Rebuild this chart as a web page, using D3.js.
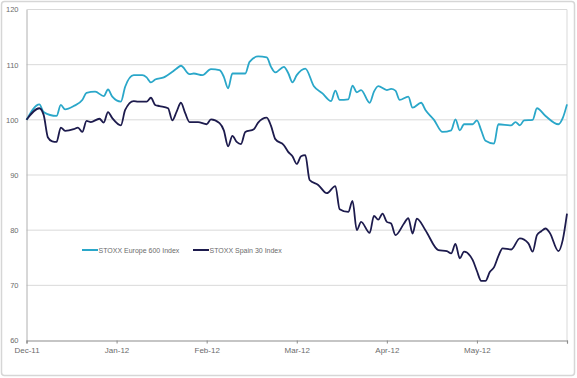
<!DOCTYPE html>
<html>
<head>
<meta charset="utf-8">
<script src="https://cdn.jsdelivr.net/npm/d3@7"></script>
<style>
html,body{margin:0;padding:0;background:#fff;}
svg{display:block;}
text{font-family:"Liberation Sans",Arial,sans-serif;}
</style>
</head>
<body>
<svg id="chart" width="577" height="378"></svg>
<script>
// ---- data ----
const seriesNames = ["STOXX Europe 600 Index", "STOXX Spain 30 Index"];
const monthLabels = ["Dec-11", "Jan-12", "Feb-12", "Mar-12", "Apr-12", "May-12"];
const tickDays = [0, 21, 42, 63, 84, 105, 126];
const yTicks = [60, 70, 80, 90, 100, 110, 120];

const europeDays = [0,3,4,7,8,9,11,13,14,16,18,19,20,22,23,25,27,28,29,30,32,34,35,36,38,39,41,43,45,46,47,48,51,52,54,56,57,58,60,61,62,63,65,67,69,71,72,73,75,76,77,78,80,81,82,84,85,86,87,89,90,92,93,95,97,99,100,101,102,104,105,106,107,109,110,113,114,115,116,118,119,121,124,125,126];
const europeValues = [100,102.8,101.4,100.7,102.7,101.9,102.5,103.6,104.9,105.1,104.3,105.5,104.2,103.3,106.0,108.1,108.1,107.7,106.8,107.3,107.7,108.7,109.3,109.8,108.3,108.4,108.1,109.2,109.0,107.8,105.7,108.4,108.4,110.5,111.5,111.3,109.6,108.6,109.6,108.5,106.8,108.1,109.3,106.1,104.8,103.4,105.3,103.6,103.7,106.2,105.0,105.4,103.1,105.1,106.1,105.4,105.6,105.3,103.6,104.2,102.2,103.1,101.8,100.0,97.8,98.1,100.1,98.1,99.2,99.2,99.9,98.1,96.2,95.7,99.2,99.0,99.6,99.0,99.9,100.0,102.1,100.7,99.2,100.3,102.8];

const spainDays = [0,3,4,5,6,7,8,9,11,12,13,14,15,17,18,19,20,22,23,25,26,28,29,30,31,33,34,35,36,37,38,40,42,43,45,46,47,48,49,50,51,53,54,56,57,58,60,61,62,63,64,65,66,68,70,72,73,75,76,77,78,80,81,82,83,84,85,86,88,89,90,91,93,96,98,99,100,101,102,104,105,106,107,108,109,110,111,113,115,117,118,119,120,121,122,124,125,126];
const spainValues = [100,102.1,100.9,96.8,96.1,96.0,98.6,98.0,98.3,98.6,97.8,99.8,99.6,100.2,99.5,101.4,100.3,99.0,101.8,103.4,103.3,103.3,104.0,102.7,102.5,102.1,99.9,101.5,103.1,101.2,99.6,99.6,99.2,100.1,99.4,98.1,95.2,97.1,96.0,95.6,97.8,98.3,99.5,100.4,98.9,96.5,95.4,94.2,93.4,92.0,93.4,93.6,89.1,88.2,86.7,88.0,83.8,83.3,85.3,80.0,81.5,79.5,82.6,81.9,83.0,81.5,81.2,79.1,81.2,82.2,79.4,82.1,80.0,76.4,76.2,75.8,77.5,74.9,76.1,74.6,72.6,70.8,70.8,72.4,73.3,75.3,76.7,76.5,78.5,77.6,76.1,79.1,79.8,80.3,79.5,76.2,78.2,83.0];

const colors = ["#2aa7c9", "#1d1b4d"];

// ---- drawing ----
const svg = d3.select("#chart");

// outer frame
svg.append("rect")
  .attr("x", 1.5).attr("y", 1.5).attr("width", 573).attr("height", 374)
  .attr("rx", 3).attr("fill", "#fff").attr("stroke", "#d6d6d6").attr("stroke-width", 1.5);

const x = d3.scaleLinear().domain([0, 126]).range([26.5, 567]);
const y = d3.scaleLinear().domain([60, 120]).range([340.5, 9.5]);

// gridlines
svg.append("g").selectAll("line").data(yTicks.filter(v => v > 60)).join("line")
  .attr("x1", x(0)).attr("x2", x(126))
  .attr("y1", d => y(d)).attr("y2", d => y(d))
  .attr("stroke", "#d9d9d9").attr("stroke-width", 1);

// right border
svg.append("line").attr("x1", x(126)).attr("x2", x(126)).attr("y1", y(120)).attr("y2", y(60))
  .attr("stroke", "#d9d9d9").attr("stroke-width", 1);

// y axis
const yAxis = d3.axisLeft(y).tickValues(yTicks).tickSize(0).tickPadding(8).tickFormat(d3.format("d"));
const gy = svg.append("g").attr("transform", `translate(${x(0)},0)`).call(yAxis);
gy.select(".domain").attr("stroke", "#b0b0b0").attr("stroke-width", 1);
gy.selectAll("text").attr("fill", "#6b6b6b").style("font-size", "7.5px");

// x axis
const xAxis = d3.axisBottom(x).tickValues(tickDays).tickSize(3).tickPadding(4)
  .tickFormat((d, i) => monthLabels[i] || "");
const gx = svg.append("g").attr("transform", `translate(0,${y(60)})`).call(xAxis);
gx.select(".domain").attr("stroke", "#8c8c8c").attr("stroke-width", 1.2);
gx.selectAll(".tick line").attr("stroke", "#8c8c8c");
gx.selectAll("text").attr("fill", "#6b6b6b").style("font-size", "8px");

// lines
const line = d3.line().x(d => x(d[0])).y(d => y(d[1])).curve(d3.curveMonotoneX);
const europe = europeDays.map((d, i) => [d, europeValues[i]]);
const spain = spainDays.map((d, i) => [d, spainValues[i]]);

svg.append("path").datum(europe).attr("d", line)
  .attr("fill", "none").attr("stroke", colors[0]).attr("stroke-width", 1.8).attr("stroke-linejoin", "round");
svg.append("path").datum(spain).attr("d", line)
  .attr("fill", "none").attr("stroke", colors[1]).attr("stroke-width", 1.8).attr("stroke-linejoin", "round");

// legend
const legendX = [82, 193];
const lg = svg.append("g").selectAll("g").data(seriesNames).join("g")
  .attr("transform", (d, i) => `translate(${legendX[i]},250)`);
lg.append("line").attr("x1", 0).attr("x2", 16).attr("y1", 0).attr("y2", 0)
  .attr("stroke", (d, i) => colors[i]).attr("stroke-width", 2);
lg.append("text").attr("x", 16.5).attr("y", 2.5).text(d => d)
  .attr("fill", "#6b6b6b").style("font-size", "7px");
</script>
</body>
</html>
